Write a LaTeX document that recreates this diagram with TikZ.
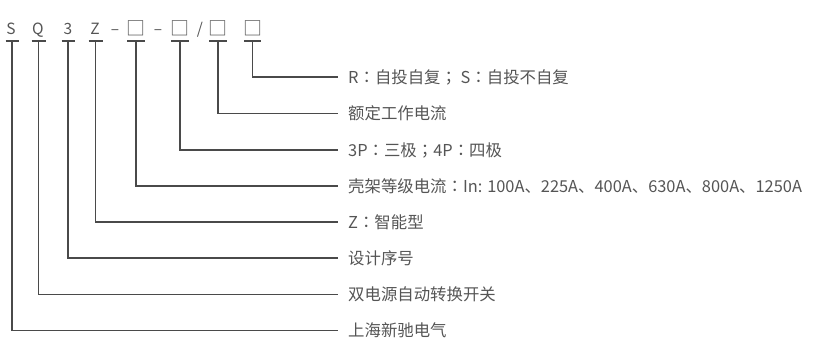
\documentclass[tikz,border=0pt]{standalone}
\usepackage{fontspec}
\setmainfont{Noto Sans CJK SC}
\newfontfamily\tcf{Noto Sans CJK TC}
\newcommand{\cc}{{\tcf ：}}
\newcommand{\cs}{{\tcf ；}}
\usetikzlibrary{calc}
\definecolor{lc}{HTML}{4A4A4A}
\definecolor{tc}{HTML}{555555}
\begin{document}
\begin{tikzpicture}[x=1pt,y=-1pt,
  ch/.style={inner sep=0pt,text=tc,font=\fontsize{15.5}{18}\selectfont,anchor=base},
  bx/.style={inner sep=0pt,text=tc,font=\fontsize{19}{22}\selectfont,anchor=base},
  lbl/.style={inner sep=0pt,text=tc,font=\fontsize{16.4}{19}\selectfont,anchor=west},
  ln/.style={draw=lc,line width=1.1pt}]
\useasboundingbox (0,0) rectangle (823,357);
% top code characters
\node[ch] (c1) at (11,34) {S};
\node[ch] (c2) at (38,34) {Q};
\node[ch] (c3) at (68,34) {3};
\node[ch] (c4) at (95,34) {Z};
\node[ch] (d1) at (115,34) {–};
\node[bx] (c5) at (136,35.5) {□};
\node[ch] (d2) at (158,34) {–};
\node[bx] (c6) at (180,35.5) {□};
\node[ch] (s1) at (200,34) {/};
\node[bx] (c7) at (218,35.5) {□};
\node[bx] (c8) at (253,35.5) {□};
% bars
\coordinate (b1) at (12,41);
\coordinate (b2) at (38.5,41);
\coordinate (b3) at (68,41);
\coordinate (b4) at (95.5,41);
\coordinate (b5) at (136,41);
\coordinate (b6) at (180,41);
\coordinate (b7) at (218,41);
\coordinate (b8) at (252.5,41);
\foreach \b/\w in {b1/6.5,b2/7,b3/6.5,b4/7,b5/9,b6/9,b7/9,b8/8.5}
  \draw[ln] ($(\b)+(-\w,0)$) -- ($(\b)+(\w,0)$);
% labels
\node[lbl] (t1) at (348,77) {R\cc 自投自复\cs{} S\cc 自投不自复};
\node[lbl] (t2) at (348,113.5) {额定工作电流};
\node[lbl] (t3) at (348,150) {3P\cc 三极\cs 4P\cc 四极};
\node[lbl] (t4) at (348,186) {壳架等级电流\cc In: 100A、225A、400A、630A、800A、1250A};
\node[lbl] (t5) at (348,222) {Z\cc 智能型};
\node[lbl] (t6) at (348,258) {设计序号};
\node[lbl] (t7) at (348,294.5) {双电源自动转换开关};
\node[lbl] (t8) at (348,330.5) {上海新驰电气};
% connectors
\foreach \b/\t in {b8/t1,b7/t2,b6/t3,b5/t4,b4/t5,b3/t6,b2/t7,b1/t8}
  \draw[ln] (\b) |- ([xshift=-10pt]\t.west);
\end{tikzpicture}
\end{document}
